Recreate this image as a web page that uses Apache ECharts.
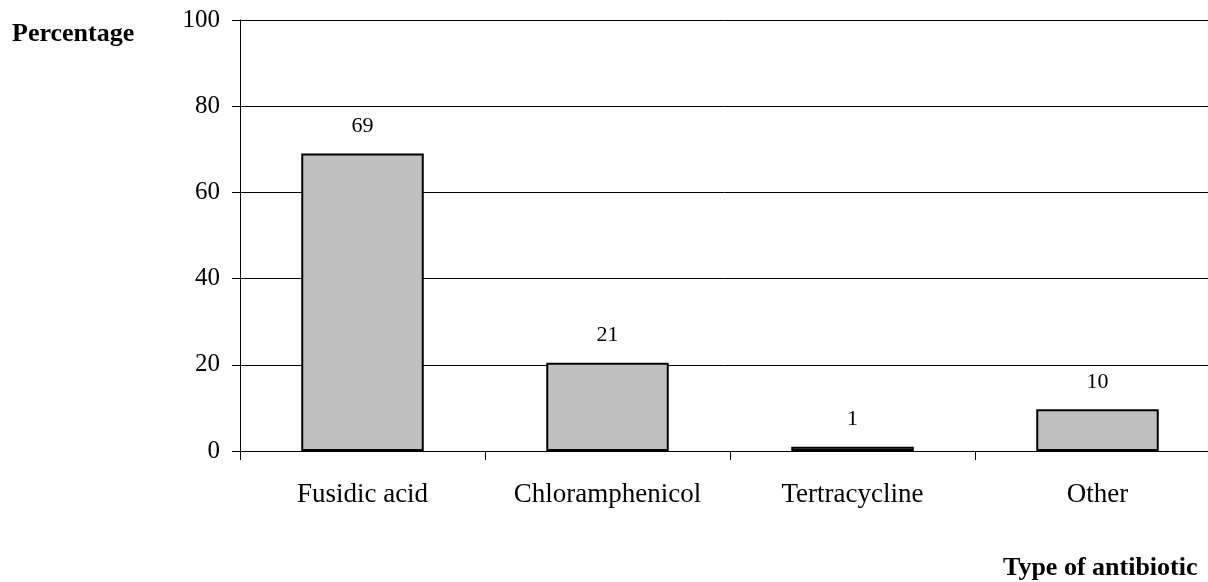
<!DOCTYPE html>
<html>
<head>
<meta charset="utf-8">
<script src="https://cdn.jsdelivr.net/npm/echarts@6/dist/echarts.min.js"></script>
<style>
  html, body { margin: 0; padding: 0; background: #fff; }
  #chart { width: 1208px; height: 582px; }
</style>
</head>
<body>
<div id="chart"></div>
<script>
var categories = ['Fusidic acid', 'Chloramphenicol', 'Tertracycline', 'Other'];
var percentages = [69, 20.5, 1, 9.7];
var percentLabels = ['69', '21', '1', '10'];
var yTicks = [0, 20, 40, 60, 80, 100];

var myChart = echarts.init(document.getElementById('chart'));

var font = '"Liberation Serif", "Times New Roman", serif';

var option = {
  backgroundColor: '#fff',
  animation: false,
  grid: {
    left: 240,
    right: -12,
    top: 20,
    bottom: 131,
    outerBoundsMode: 'none'
  },
  graphic: [
    {
      type: 'text',
      left: 12,
      top: 21,
      style: { text: 'Percentage', font: 'bold 26px ' + font, fill: '#000' }
    },
    {
      type: 'text',
      left: 1003,
      top: 555,
      style: { text: 'Type of antibiotic', font: 'bold 26px ' + font, fill: '#000' }
    }
  ],
  xAxis: {
    type: 'category',
    data: categories,
    axisLine: { lineStyle: { color: '#000', width: 1 } },
    axisTick: { show: true, length: 9, lineStyle: { color: '#000' } },
    axisLabel: { color: '#000', fontFamily: font, fontSize: 27, margin: 30 }
  },
  yAxis: {
    type: 'value',
    min: yTicks[0],
    max: yTicks[yTicks.length - 1],
    interval: 20,
    axisLine: { show: true, lineStyle: { color: '#000', width: 1 } },
    axisTick: { show: true, length: 8, lineStyle: { color: '#000' } },
    axisLabel: { color: '#000', fontFamily: font, fontSize: 25, margin: 20 },
    splitLine: { show: true, lineStyle: { color: '#000', width: 1 } }
  },
  series: [
    {
      type: 'bar',
      data: percentages,
      barWidth: '50%',
      itemStyle: { color: '#c0c0c0', borderColor: '#000', borderWidth: 2 },
      label: {
        show: true,
        position: 'top',
        distance: 16,
        color: '#000',
        fontFamily: font,
        fontSize: 22,
        formatter: function (p) { return percentLabels[p.dataIndex]; }
      }
    }
  ]
};

myChart.setOption(option);
</script>
</body>
</html>
